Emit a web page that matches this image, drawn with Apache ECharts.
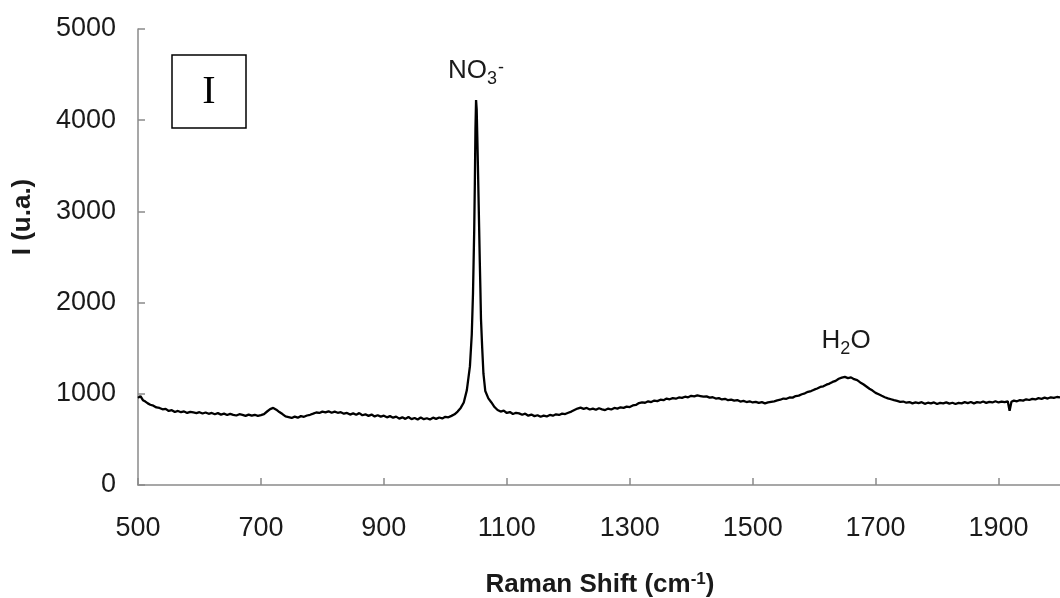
<!DOCTYPE html>
<html><head><meta charset="utf-8">
<script src="https://cdn.jsdelivr.net/npm/echarts@6/dist/echarts.min.js"></script>
<style>html,body{margin:0;padding:0;background:#fff}#c{width:1060px;height:598px}</style>
</head><body><div id="c"></div>
<script>
const xTicks = [500, 700, 900, 1100, 1300, 1500, 1700, 1900];
const yTicks = [0, 1000, 2000, 3000, 4000, 5000];
const ramanShift = [
  500,504,508,512,516,520,525,530,535,540,545,550,555,
  560,565,570,575,580,585,590,595,600,605,610,615,620,625,630,635,640,645,650,655,660,665,670,675,680,685,690,695,
  700,705,710,715,720,725,730,735,740,745,750,755,760,765,770,775,780,785,790,795,800,805,810,815,820,825,830,835,840,845,
  850,855,860,865,870,875,880,885,890,895,900,905,910,915,920,925,930,935,940,945,950,955,960,965,970,975,980,985,990,995,
  1000,1005,1010,1015,1020,1025,1030,1035,1040,1043,1045,1047,1048,1049,1050,1051,1052,1053,1054,
  1055,1056,1057,1058,1060,1062,1065,1070,1075,1080,
  1085,1090,1095,1100,1105,1110,1115,1120,1125,1130,1135,1140,1145,1150,1155,1160,1165,1170,1175,1180,1185,1190,1195,
  1200,1205,1210,1215,1220,1225,1230,1235,1240,1245,1250,1255,1260,1265,1270,1275,1280,1285,1290,1295,
  1300,1305,1310,1315,1320,1325,1330,1335,1340,1345,1350,1355,1360,1365,1370,1375,1380,1385,1390,1395,
  1400,1405,1410,1415,1420,1425,1430,1435,1440,1445,1450,1455,1460,1465,1470,1475,1480,1485,1490,1495,
  1500,1505,1510,1515,1520,1525,1530,1535,1540,1545,1550,1555,1560,1565,1570,1575,1580,1585,1590,1595,
  1600,1605,1610,1615,1620,1625,1630,1635,1640,1645,1650,1655,1660,1665,1670,1675,1680,1685,1690,1695,
  1700,1705,1710,1715,1720,1725,1730,1735,1740,1745,1750,1755,1760,1765,1770,1775,1780,1785,1790,1795,
  1800,1805,1810,1815,1820,1825,1830,1835,1840,1845,1850,1855,1860,1865,1870,1875,1880,1885,1890,1895,
  1900,1905,1910,1915,1918,1921,1925,1930,1935,1940,1945,1950,1955,1960,1965,1970,1975,1980,1985,1990,1995,2000
];
const intensity = [
  955,975,930,915,895,880,870,850,845,830,835,812,820,
  800,812,798,806,790,802,795,788,798,784,795,781,790,776,788,772,782,768,780,770,762,776,768,758,772,760,770,758,
  766,778,806,832,845,826,800,778,752,745,735,750,738,755,748,762,770,782,795,790,805,796,808,792,804,792,798,782,790,772,
  785,770,788,765,775,758,772,752,765,750,760,742,755,738,750,728,742,725,746,722,735,718,740,722,732,718,738,725,740,730,
  748,742,758,775,805,845,905,1040,1300,1650,2100,2800,3300,3900,4220,4120,3820,3500,3160,
  2820,2470,2160,1820,1500,1220,1030,950,905,855,
  822,805,815,790,800,778,792,785,770,782,760,772,755,765,748,760,752,768,760,775,768,782,778,
  792,805,822,838,848,835,845,828,838,825,842,830,822,838,828,845,838,852,846,860,
  855,872,878,898,905,902,918,910,926,920,935,930,948,940,952,946,960,955,968,962,
  978,972,982,975,968,972,958,962,948,952,938,945,930,936,925,932,915,922,910,918,
  905,912,900,908,895,905,912,918,928,935,948,945,960,958,975,980,995,1005,1022,1030,
  1045,1058,1075,1082,1100,1112,1130,1142,1165,1178,1185,1172,1180,1160,1150,1125,1105,1080,1055,1035,
  1010,995,978,962,950,940,930,922,912,915,902,910,895,905,898,908,890,902,895,905,
  888,900,895,906,892,902,888,900,895,908,898,910,895,908,902,915,900,912,905,918,
  905,915,908,918,815,912,925,918,932,925,940,932,945,938,952,945,958,948,962,955,965,960
];
const bandLabels = ['{n|NO}{s|3}{p|-}', '{n|H}{s|2}{n|O}'];
const bandPos = [[1050, 4540], [1652, 1580]];
const panelLabel = 'I';
const xTitle = '{b|Raman Shift (cm}{p|-1}{b|)}';
const yTitle = 'I (u.a.)';

const FONT = "'Liberation Sans', Arial, sans-serif";
const axisColor = '#8a8a8a';
const chart = echarts.init(document.getElementById('c'), null, {renderer: 'canvas'});
chart.setOption({
  animation: false,
  backgroundColor: '#fff',
  grid: {left: 138, top: 29, width: 925, height: 456, containLabel: false},
  xAxis: {
    type: 'value', min: 500, max: 2000,
    axisLine: {show: true, lineStyle: {color: axisColor, width: 1.5}},
    axisTick: {show: true, inside: true, length: 7, customValues: xTicks, lineStyle: {color: axisColor, width: 1.5}},
    axisLabel: {customValues: xTicks, formatter: v => String(v), fontSize: 27, color: '#1a1a1a', fontFamily: FONT, margin: 30},
    splitLine: {show: false}
  },
  yAxis: {
    type: 'value', min: 0, max: 5000, interval: 1000,
    axisLine: {show: true, lineStyle: {color: axisColor, width: 1.5}},
    axisTick: {show: true, inside: true, length: 7, lineStyle: {color: axisColor, width: 1.5}},
    axisLabel: {formatter: v => String(v), fontSize: 27, color: '#1a1a1a', fontFamily: FONT, margin: 22},
    splitLine: {show: false}
  },
  series: [{
    type: 'line',
    data: ramanShift.map((x, i) => [x, intensity[i]]),
    symbol: 'none',
    lineStyle: {color: '#000', width: 2.3},
    markPoint: {
      symbol: 'circle', symbolSize: 0,
      label: {
        show: true, position: 'inside', color: '#1a1a1a', fontFamily: FONT,
        rich: {
          n: {fontSize: 26, fontFamily: FONT, color: '#1a1a1a'},
          s: {fontSize: 18, fontFamily: FONT, color: '#1a1a1a', padding: [16, 0, 0, 0]},
          p: {fontSize: 18, fontFamily: FONT, color: '#1a1a1a', padding: [0, 0, 6, 1]}
        }
      },
      data: bandPos.map((c, i) => ({coord: c, label: {formatter: bandLabels[i]}}))
    }
  }],
  graphic: [
    {type: 'rect', shape: {x: 172, y: 55, width: 74, height: 73}, style: {fill: '#fff', stroke: '#000', lineWidth: 1.5}},
    {type: 'text', x: 209, y: 92, style: {text: panelLabel, font: "40px 'Liberation Serif', 'Times New Roman', serif", fill: '#000', align: 'center', verticalAlign: 'middle'}},
    {type: 'text', x: 600, y: 585, style: {text: xTitle, align: 'center', verticalAlign: 'middle', fill: '#1a1a1a',
      rich: {b: {fontSize: 26, fontWeight: 'bold', fontFamily: FONT, color: '#1a1a1a'},
             p: {fontSize: 17, fontWeight: 'bold', fontFamily: FONT, color: '#1a1a1a', padding: [0, 0, 12, 0]}}}},
    {type: 'text', x: 23, y: 217, rotation: Math.PI / 2, style: {text: yTitle, align: 'center', verticalAlign: 'middle', fill: '#1a1a1a',
      font: "bold 26px 'Liberation Sans', Arial, sans-serif"}}
  ]
});
</script>
</body></html>
